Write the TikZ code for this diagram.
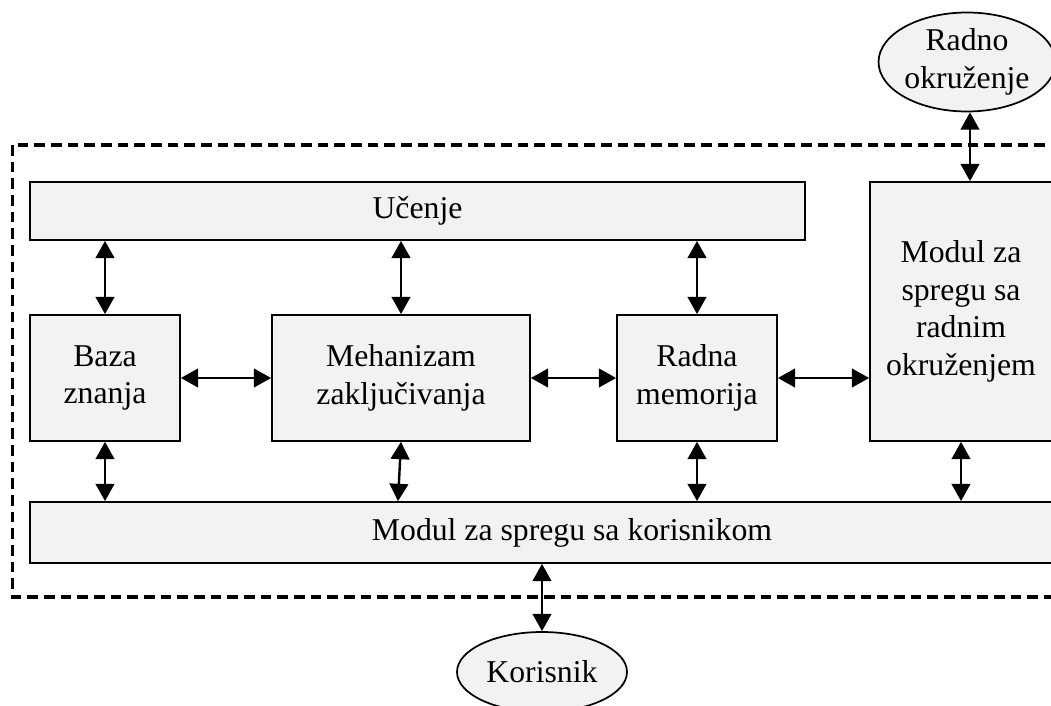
\documentclass[tikz,border=0pt]{standalone}
\usepackage{fontspec}
\setmainfont{Liberation Serif}
\usetikzlibrary{arrows.meta,shapes.geometric,calc}
\definecolor{boxgray}{HTML}{F2F2F2}
\begin{document}
\begin{tikzpicture}[x=0.75pt,y=-0.75pt,
  txt/.style={font=\fontsize{23.8}{28.2}\selectfont, align=center},
  blk/.style={txt, draw, line width=1.3pt, fill=boxgray, inner sep=0pt},
  oval/.style={txt, ellipse, draw, line width=1.3pt, fill=boxgray, inner sep=0pt},
  link/.style={line width=1.8pt, {Triangle[length=13pt,width=14pt]}-{Triangle[length=13pt,width=14pt]}},
  frame/.style={line width=2.6pt, dash pattern=on 8pt off 4.5pt}
]
\useasboundingbox (0,0) rectangle (1051,706);
\clip (0,0) rectangle (1051,706);

% dashed system boundary
\draw[frame] (12.5,145) rectangle (1110,597);

% blocks
\node[blk, minimum width=775*0.75pt, minimum height=58*0.75pt] (ucenje) at (417.5,211) {Učenje};
\node[blk, minimum width=150*0.75pt, minimum height=126*0.75pt] (baza) at (105,378) {Baza\\znanja};
\node[blk, minimum width=258*0.75pt, minimum height=126*0.75pt] (meh) at (401,378) {Mehanizam\\zaključivanja};
\node[blk, minimum width=160*0.75pt, minimum height=126*0.75pt] (radna) at (697,378) {Radna\\memorija};
\node[blk, minimum width=182*0.75pt, minimum height=259*0.75pt] (modr) at (961,311.5) {Modul za\\spregu sa\\radnim\\okruženjem};
\node[blk, minimum width=1084*0.75pt, minimum height=61*0.75pt] (modk) at (572,532.5) {Modul za spregu sa korisnikom};

% external entities
\node[oval, minimum width=170*0.75pt, minimum height=99*0.75pt] (env) at (967,62) {Radno\\okruženje};
\node[oval, minimum width=170*0.75pt, minimum height=80*0.75pt] (user) at (542,672) {Korisnik};

% links to learning
\draw[link] (ucenje.south -| baza) -- (baza.north);
\draw[link] (ucenje.south -| meh) -- (meh.north);
\draw[link] (ucenje.south -| radna) -- (radna.north);

% horizontal links
\draw[link] (baza.east) -- (meh.west);
\draw[link] (meh.east) -- (radna.west);
\draw[link] (radna.east) -- (radna.east -| modr.west);

% environment link
\draw[link] ($(env.south)+(3,0)$) -- ($(env.south |- modr.north)+(3,0)$);

% links to user interface module
\draw[link] (baza.south) -- (baza.south |- modk.north);
\draw[link] (meh.south) -- ($(meh.south |- modk.north)+(-3,0)$);
\draw[link] (radna.south) -- (radna.south |- modk.north);
\draw[link] (modr.south) -- (modr.south |- modk.north);
\draw[link] (user.north |- modk.south) -- (user.north);
\end{tikzpicture}
\end{document}
